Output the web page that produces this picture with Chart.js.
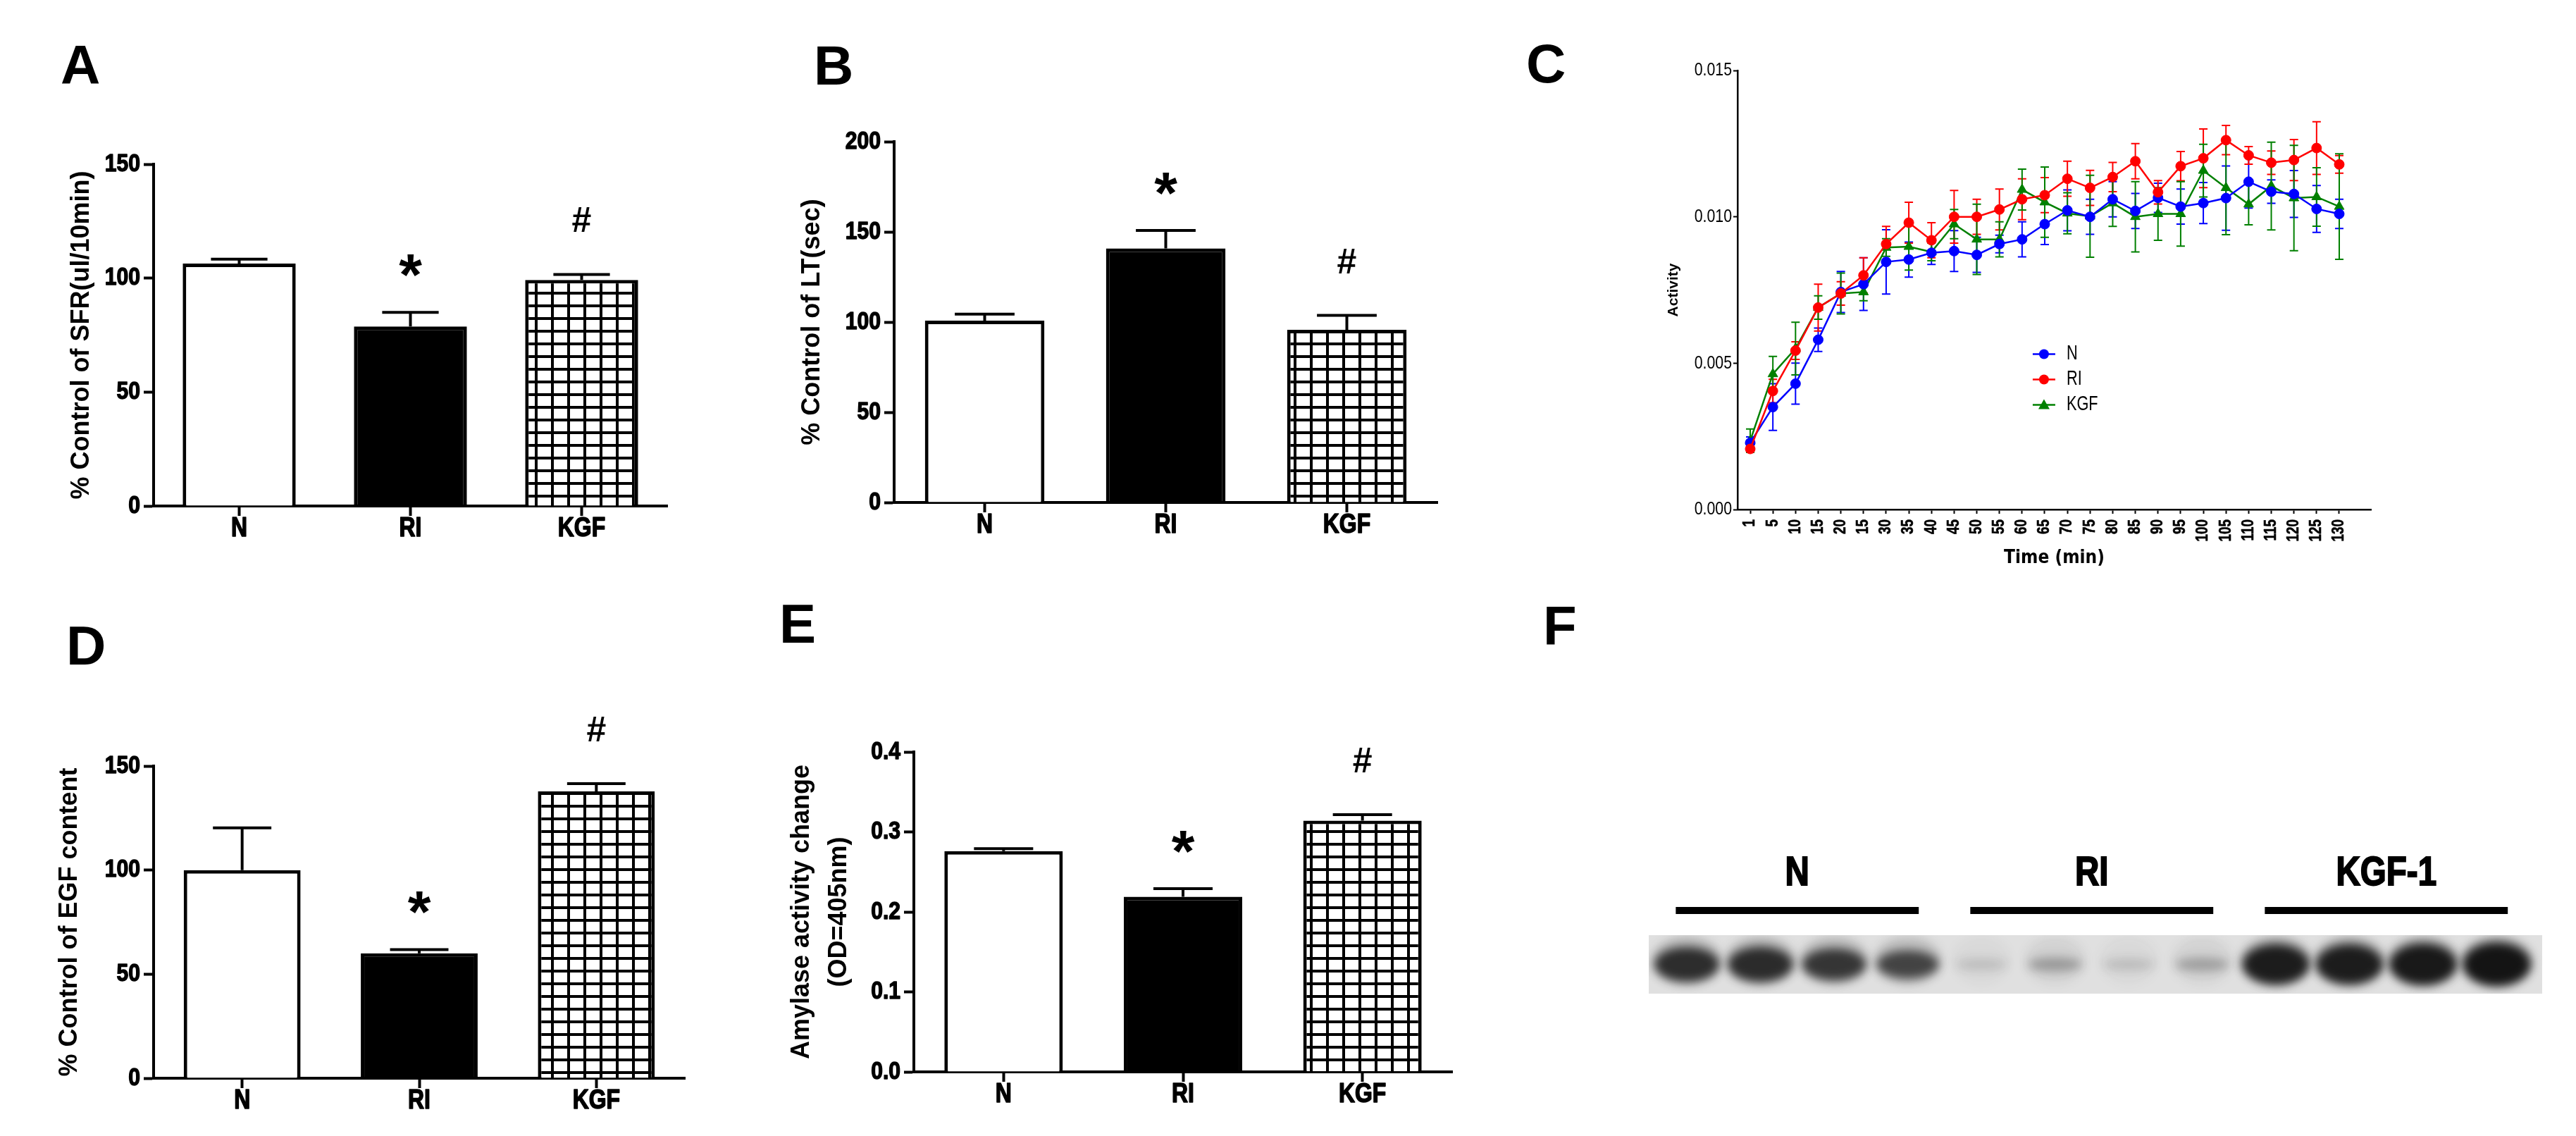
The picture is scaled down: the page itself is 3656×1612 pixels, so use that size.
<!DOCTYPE html>
<html>
<head>
<meta charset="utf-8">
<script src="https://cdn.jsdelivr.net/npm/chart.js@4.4.1/dist/chart.umd.min.js"></script>
<style>
    html, body { margin: 0; padding: 0; background: #fff; }
    #page { position: relative; width: 3656px; height: 1612px; overflow: hidden; background: #fff; }
    #page canvas { position: absolute; }
    .letter { position: absolute; font: bold 78px "Liberation Sans", Arial, sans-serif; line-height: 1; color: #000; }
</style>
</head>
<body>
<div id="page">
    <div class="letter" style="left:86px;top:53px">A</div>
    <div class="letter" style="left:1155px;top:54px">B</div>
    <div class="letter" style="left:2166px;top:51px">C</div>
    <div class="letter" style="left:94px;top:877px">D</div>
    <div class="letter" style="left:1106px;top:846px">E</div>
    <div class="letter" style="left:2190px;top:849px">F</div>
</div>
<script>
// group labels shared by the bar panels
const barLabels = ["N", "RI", "KGF"];
const barMarks = ["", "*", "#"];

// A: salivary flow rate
const sfrMean = [106.4, 78.8, 99.2];
const sfrSem = [1.9, 6.2, 2.4];

// B: latency time
const ltMean = [100.8, 140.8, 95.7];
const ltSem = [3.6, 10, 8];

// D: EGF content
const egfMean = [100, 60, 137.8];
const egfSem = [20.3, 1.8, 3.7];

// E: amylase activity
const amylaseMean = [0.276, 0.219, 0.314];
const amylaseSem = [0.003, 0.010, 0.0076];

// C: activity over time
const timeLabels = ["1", "5", "10", "15", "20", "15", "30", "35", "40", "45", "50", "55", "60", "65",
    "70", "75", "80", "85", "90", "95", "100", "105", "110", "115", "120", "125", "130"];
const activityN = [0.00228, 0.0035, 0.0043, 0.0058, 0.00743, 0.0077, 0.00846, 0.00854, 0.00877, 0.00883,
    0.0087, 0.00907, 0.00923, 0.00975, 0.01022, 0.0100, 0.0106, 0.0102, 0.01065, 0.01035,
    0.01047, 0.01064, 0.0112, 0.01086, 0.01078, 0.01027, 0.0101];
const activityNSem = [0.0002, 0.0008, 0.0007, 0.0004, 0.0007, 0.0009, 0.0011, 0.0006, 0.0004, 0.0007,
    0.0006, 0.0003, 0.0006, 0.0007, 0.0007, 0.0006, 0.0006, 0.0006, 0.0005, 0.0006,
    0.0007, 0.0011, 0.0009, 0.0004, 0.0008, 0.0008, 0.0005];
const activityRI = [0.00207, 0.00405, 0.00543, 0.0069, 0.00738, 0.0080, 0.00907, 0.0098, 0.0092, 0.0100,
    0.0100, 0.01025, 0.0106, 0.01074, 0.0113, 0.01099, 0.01136, 0.0119, 0.01084, 0.01173,
    0.0120, 0.01262, 0.0121, 0.01185, 0.01194, 0.01235, 0.01179];
const activityRISem = [0.0001, 0.0004, 0.0003, 0.0008, 0.0004, 0.0006, 0.0006, 0.0007, 0.0006, 0.0009,
    0.0006, 0.0007, 0.0007, 0.0006, 0.0006, 0.0006, 0.0005, 0.0006, 0.0004, 0.0005,
    0.0010, 0.0005, 0.0003, 0.0004, 0.0007, 0.0009, 0.0003];
const activityKGF = [0.00235, 0.00463, 0.0055, 0.0069, 0.00738, 0.00743, 0.00895, 0.00898, 0.0088, 0.00975,
    0.00923, 0.00923, 0.01093, 0.0105, 0.01012, 0.01002, 0.01047, 0.0100, 0.0101, 0.0101,
    0.01158, 0.01099, 0.01043, 0.01105, 0.01064, 0.01068, 0.01035];
const activityKGFSem = [0.0004, 0.0006, 0.0009, 0.0004, 0.0007, 0.0003, 0.0003, 0.0008, 0.0003, 0.0005,
    0.0012, 0.0006, 0.0007, 0.0012, 0.0007, 0.0014, 0.0008, 0.0012, 0.0009, 0.0011,
    0.0009, 0.0016, 0.0007, 0.0015, 0.0018, 0.0010, 0.0018];

// F: western blot
const blotGroups = ["N", "RI", "KGF-1"];
const laneIntensity = [0.85, 0.86, 0.8, 0.72, 0.14, 0.3, 0.15, 0.28, 0.95, 0.95, 0.97, 1.0];

const SANS = '"Liberation Sans", Arial, Helvetica, sans-serif';
const NARROW = '"Liberation Sans Narrow", "Arial Narrow", "DejaVu Sans Condensed", sans-serif';

Chart.defaults.animation = false;
Chart.defaults.color = "#000";
Chart.defaults.font.family = SANS;

function addCanvas(left, top, width, height) {
    const canvas = document.createElement("canvas");
    canvas.width = width;
    canvas.height = height;
    canvas.style.left = left + "px";
    canvas.style.top = top + "px";
    canvas.style.width = width + "px";
    canvas.style.height = height + "px";
    document.getElementById("page").appendChild(canvas);
    return canvas;
}

function gridPattern(ctx) {
    const tile = document.createElement("canvas");
    tile.width = 23;
    tile.height = 18;
    const g = tile.getContext("2d");
    g.fillStyle = "#fff";
    g.fillRect(0, 0, 23, 18);
    g.fillStyle = "#000";
    g.fillRect(0, 0, 4, 18);
    g.fillRect(0, 0, 23, 4);
    return ctx.createPattern(tile, "repeat");
}

// tick labels drawn squeezed (the originals used a condensed face), with an
// optional outline to keep the heavy look
const squeezedLabels = {
    id: "squeezedLabels",
    afterDraw(chart, args, opts) {
        const { ctx } = chart;
        ctx.save();
        ctx.fillStyle = "#000";
        ctx.strokeStyle = "#000";
        ctx.lineJoin = "round";
        opts.axes.forEach((ax) => {
            const scale = chart.scales[ax.id];
            ctx.font = ax.font;
            scale.ticks.forEach((tick, i) => {
                const text = ax.format(tick.value, i);
                if (text === undefined || text === null) {
                    return;
                }
                const p = scale.getPixelForTick(i);
                ctx.save();
                if (ax.id === "y") {
                    ctx.translate(scale.right - ax.offset, p);
                    ctx.textAlign = "right";
                    ctx.textBaseline = "middle";
                } else if (ax.rotate) {
                    ctx.translate(p, scale.top + ax.offset);
                    ctx.rotate(-Math.PI / 2);
                    ctx.textAlign = "right";
                    ctx.textBaseline = "middle";
                } else {
                    ctx.translate(p, scale.top + ax.offset);
                    ctx.textAlign = "center";
                    ctx.textBaseline = "top";
                }
                ctx.scale(ax.squeeze, 1);
                ctx.fillText(text, 0, 0);
                if (ax.outline) {
                    ctx.lineWidth = ax.outline;
                    ctx.strokeText(text, 0, 0);
                }
                ctx.restore();
            });
        });
        ctx.restore();
    },
};

// error bars (upward only) and significance marks on bar panels
const barErrorPlugin = {
    id: "barErrors",
    afterDatasetsDraw(chart, args, opts) {
        const { ctx } = chart;
        const yScale = chart.scales.y;
        const values = chart.data.datasets[0].data;
        ctx.save();
        ctx.strokeStyle = "#000";
        ctx.lineWidth = 4;
        chart.getDatasetMeta(0).data.forEach((bar, i) => {
            const top = yScale.getPixelForValue(values[i] + opts.sems[i]);
            const half = bar.width / 4;
            ctx.beginPath();
            ctx.moveTo(bar.x, bar.y);
            ctx.lineTo(bar.x, top);
            ctx.moveTo(bar.x - half, top);
            ctx.lineTo(bar.x + half, top);
            ctx.stroke();
            const mark = opts.marks[i];
            if (!mark) {
                return;
            }
            ctx.fillStyle = "#000";
            ctx.textAlign = "center";
            ctx.textBaseline = "alphabetic";
            if (mark === "*") {
                ctx.font = "bold 84px " + SANS;
                ctx.fillText(mark, bar.x, top - 60 + 36);
            } else {
                ctx.font = "bold 50px " + SANS;
                ctx.fillText(mark, bar.x, top - 60);
            }
        });
        ctx.restore();
    },
};

function makeBarChart(cfg) {
    const canvas = addCanvas(cfg.left, cfg.top, cfg.width, cfg.height);
    const ctx = canvas.getContext("2d");
    const yFormat = cfg.format || ((v) => String(v));
    return new Chart(ctx, {
        type: "bar",
        data: {
            labels: barLabels,
            datasets: [{
                data: cfg.values,
                backgroundColor: ["#fff", "#000", gridPattern(ctx)],
                borderColor: "#000",
                borderWidth: 5,
                barPercentage: 0.66,
                categoryPercentage: 1,
            }],
        },
        options: {
            responsive: false,
            layout: { padding: { left: 0, top: cfg.padTop, right: cfg.padRight, bottom: 0 } },
            plugins: {
                legend: { display: false },
                tooltip: { enabled: false },
                barErrors: { sems: cfg.sems, marks: barMarks },
                squeezedLabels: {
                    axes: [
                        { id: "x", font: "bold 38px " + SANS, squeeze: 0.84, offset: 14, outline: 1.6, format: (v, i) => barLabels[i] },
                        { id: "y", font: "bold 35px " + SANS, squeeze: 0.86, offset: 19, outline: 1.4, format: (v) => yFormat(v) },
                    ],
                },
            },
            scales: {
                x: {
                    ticks: { display: false },
                    grid: { offset: false, drawOnChartArea: false, drawTicks: true, tickLength: 14, tickWidth: 4, color: "#000" },
                    border: { display: true, width: 4, color: "#000" },
                    afterFit: (scale) => { scale.height = cfg.xHeight; },
                },
                y: {
                    min: 0,
                    max: cfg.max,
                    ticks: { display: false, stepSize: cfg.step },
                    grid: { drawOnChartArea: false, drawTicks: true, tickLength: 14, tickWidth: 4, color: "#000" },
                    border: { display: true, width: 4, color: "#000" },
                    title: {
                        display: true,
                        text: cfg.title,
                        color: "#000",
                        font: { family: SANS, size: 36, weight: "bold", lineHeight: cfg.titleLineHeight || 1.2 },
                        padding: { top: cfg.titlePad, bottom: 0 },
                    },
                    afterFit: (scale) => { scale.width = cfg.yWidth; },
                },
            },
        },
        plugins: [barErrorPlugin, squeezedLabels],
    });
}

makeBarChart({
    left: 0, top: 0, width: 1000, height: 800,
    values: sfrMean, sems: sfrSem, max: 150, step: 50,
    title: "% Control of SFR(ul/10min)", titlePad: 94,
    yWidth: 218, xHeight: 82, padTop: 233, padRight: 53,
});

makeBarChart({
    left: 1100, top: 0, width: 1000, height: 800,
    values: ltMean, sems: ltSem, max: 200, step: 50,
    title: "% Control of LT(sec)", titlePad: 31,
    yWidth: 169, xHeight: 87, padTop: 201, padRight: 60,
});

makeBarChart({
    left: 0, top: 800, width: 1050, height: 812,
    values: egfMean, sems: egfSem, max: 150, step: 50,
    title: "% Control of EGF content", titlePad: 77,
    yWidth: 218, xHeight: 82, padTop: 287, padRight: 78,
});

makeBarChart({
    left: 1100, top: 800, width: 1000, height: 812,
    values: amylaseMean, sems: amylaseSem, max: 0.4, step: 0.1,
    format: (v) => Number(v).toFixed(1),
    title: ["Amylase activity change", "(OD=405nm)"], titlePad: 12, titleLineHeight: 1.47,
    yWidth: 197, xHeight: 91, padTop: 267, padRight: 39,
});

// C: time course with symmetric error bars and an inset legend
const seriesErrorPlugin = {
    id: "seriesErrors",
    beforeDatasetsDraw(chart, args, opts) {
        const { ctx } = chart;
        const xScale = chart.scales.x;
        const yScale = chart.scales.y;
        ctx.save();
        ctx.lineWidth = 2;
        chart.data.datasets.forEach((ds, d) => {
            const sems = opts.sems[d];
            ctx.strokeStyle = ds.borderColor;
            ds.data.forEach((pt, i) => {
                const x = xScale.getPixelForValue(pt.x);
                const y1 = yScale.getPixelForValue(pt.y + sems[i]);
                const y2 = yScale.getPixelForValue(pt.y - sems[i]);
                ctx.beginPath();
                ctx.moveTo(x, y1);
                ctx.lineTo(x, y2);
                ctx.moveTo(x - 6, y1);
                ctx.lineTo(x + 6, y1);
                ctx.moveTo(x - 6, y2);
                ctx.lineTo(x + 6, y2);
                ctx.stroke();
            });
        });
        ctx.restore();
    },
    afterDraw(chart) {
        const { ctx, chartArea } = chart;
        const x0 = chartArea.left + 0.466 * (chartArea.right - chartArea.left);
        let y = chartArea.top + 0.646 * (chartArea.bottom - chartArea.top);
        ctx.save();
        chart.data.datasets.slice().sort((a, b) => a.legendIndex - b.legendIndex).forEach((ds) => {
            ctx.strokeStyle = ds.borderColor;
            ctx.fillStyle = ds.borderColor;
            ctx.lineWidth = 2.5;
            ctx.beginPath();
            ctx.moveTo(x0, y);
            ctx.lineTo(x0 + 32, y);
            ctx.stroke();
            ctx.beginPath();
            const cx = x0 + 16;
            if (ds.pointStyle === "triangle") {
                ctx.moveTo(cx, y - 8);
                ctx.lineTo(cx + 8, y + 6);
                ctx.lineTo(cx - 8, y + 6);
                ctx.closePath();
            } else {
                ctx.arc(cx, y, 7, 0, Math.PI * 2);
            }
            ctx.fill();
            ctx.save();
            ctx.fillStyle = "#000";
            ctx.font = "29px " + SANS;
            ctx.textAlign = "left";
            ctx.textBaseline = "middle";
            ctx.translate(x0 + 48, y);
            ctx.scale(0.75, 1);
            ctx.fillText(ds.label, 0, 0);
            ctx.restore();
            y += 36;
        });
        ctx.restore();
    },
};

function lineSeries(label, values, color, style, order, legendIndex) {
    return {
        label,
        data: values.map((v, i) => ({ x: i, y: v })),
        borderColor: color,
        backgroundColor: color,
        borderWidth: 2.5,
        pointStyle: style,
        pointRadius: style === "triangle" ? 8 : 7,
        pointBorderWidth: 1,
        pointBackgroundColor: color,
        pointBorderColor: color,
        tension: 0,
        order,
        legendIndex,
    };
}

const canvasC = addCanvas(2250, 0, 1250, 830);
new Chart(canvasC.getContext("2d"), {
    type: "line",
    data: {
        datasets: [
            lineSeries("N", activityN, "#0000ff", "circle", 1, 0),
            lineSeries("RI", activityRI, "#ff0000", "circle", 0, 1),
            lineSeries("KGF", activityKGF, "#008000", "triangle", 2, 2),
        ],
    },
    options: {
        responsive: false,
        layout: { padding: { left: 0, top: 100, right: 135, bottom: 0 } },
        plugins: {
            legend: { display: false },
            tooltip: { enabled: false },
            seriesErrors: { sems: [activityNSem, activityRISem, activityKGFSem] },
            squeezedLabels: {
                axes: [
                    { id: "x", rotate: true, font: "bold 23px " + SANS, squeeze: 0.82, offset: 14, outline: 0.6, format: (v) => timeLabels[Math.round(v)] },
                    { id: "y", font: "26px " + SANS, squeeze: 0.82, offset: 8, format: (v) => Number(v).toFixed(3) },
                ],
            },
        },
        scales: {
            x: {
                type: "linear",
                min: -0.56,
                max: 27.4,
                afterBuildTicks: (scale) => { scale.ticks = timeLabels.map((_, i) => ({ value: i })); },
                ticks: { display: false },
                grid: { drawOnChartArea: false, drawTicks: true, tickLength: 6, tickWidth: 2, color: "#000" },
                border: { display: true, width: 2.5, color: "#000" },
                title: {
                    display: true,
                    text: "Time (min)",
                    color: "#000",
                    font: { family: NARROW, size: 26, weight: "bold" },
                    padding: { top: 0, bottom: 22 },
                },
                afterFit: (scale) => { scale.height = 107; },
            },
            y: {
                min: 0,
                max: 0.015,
                ticks: { display: false, stepSize: 0.005 },
                grid: { drawOnChartArea: false, drawTicks: true, tickLength: 6, tickWidth: 2, color: "#000" },
                border: { display: true, width: 2.5, color: "#000" },
                title: {
                    display: true,
                    text: "Activity",
                    color: "#000",
                    font: { family: SANS, size: 21, weight: "bold" },
                    padding: { top: 113, bottom: 0 },
                },
                afterFit: (scale) => { scale.width = 216; },
            },
        },
    },
    plugins: [seriesErrorPlugin, squeezedLabels],
});

// F: blot lanes placed on a hidden linear scale
const blotPlugin = {
    id: "blot",
    beforeDatasetsDraw(chart) {
        const { ctx, chartArea } = chart;
        ctx.save();
        ctx.fillStyle = "#e0e0e0";
        ctx.fillRect(chartArea.left, chartArea.top, chartArea.right - chartArea.left, chartArea.bottom - chartArea.top);
        ctx.beginPath();
        ctx.rect(chartArea.left, chartArea.top, chartArea.right - chartArea.left, chartArea.bottom - chartArea.top);
        ctx.clip();
        ctx.filter = "blur(7px)";
        chart.getDatasetMeta(0).data.forEach((pt, i) => {
            const v = laneIntensity[i];
            ctx.fillStyle = "rgba(40, 40, 40, " + (0.25 * v) + ")";
            ctx.beginPath();
            ctx.ellipse(pt.x, pt.y - 6, 40 + 10 * v, 34, 0, 0, Math.PI * 2);
            ctx.fill();
            ctx.fillStyle = "rgba(20, 20, 20, " + v + ")";
            ctx.beginPath();
            ctx.ellipse(pt.x, pt.y, 34 + 14 * v, 8 + 23 * v * v, 0, 0, Math.PI * 2);
            ctx.fill();
        });
        ctx.restore();
    },
    afterDraw(chart) {
        const { ctx, chartArea } = chart;
        const xScale = chart.scales.x;
        const perGroup = laneIntensity.length / blotGroups.length;
        ctx.save();
        ctx.fillStyle = "#000";
        ctx.strokeStyle = "#000";
        ctx.lineWidth = 2;
        blotGroups.forEach((name, g) => {
            const mid = g * perGroup + (perGroup - 1) / 2;
            const x1 = xScale.getPixelForValue(mid - 1.65);
            const x2 = xScale.getPixelForValue(mid + 1.65);
            ctx.fillRect(x1, chartArea.top - 40, x2 - x1, 10);
            ctx.save();
            ctx.translate((x1 + x2) / 2, chartArea.top - 87);
            ctx.scale(0.82, 1);
            ctx.font = "bold 58px " + SANS;
            ctx.textAlign = "center";
            ctx.textBaseline = "middle";
            ctx.fillText(name, 0, 0);
            ctx.strokeText(name, 0, 0);
            ctx.restore();
        });
        ctx.restore();
    },
};

const canvasF = addCanvas(2250, 800, 1406, 812);
new Chart(canvasF.getContext("2d"), {
    type: "scatter",
    data: {
        datasets: [{ data: laneIntensity.map((_, i) => ({ x: i, y: 0.5 })), pointRadius: 0 }],
    },
    options: {
        responsive: false,
        layout: { padding: { left: 90, top: 527, right: 48, bottom: 202 } },
        plugins: { legend: { display: false }, tooltip: { enabled: false } },
        scales: {
            x: { type: "linear", display: false, min: -0.517, max: 11.617 },
            y: { display: false, min: 0, max: 1 },
        },
    },
    plugins: [blotPlugin],
});
</script>
</body>
</html>
